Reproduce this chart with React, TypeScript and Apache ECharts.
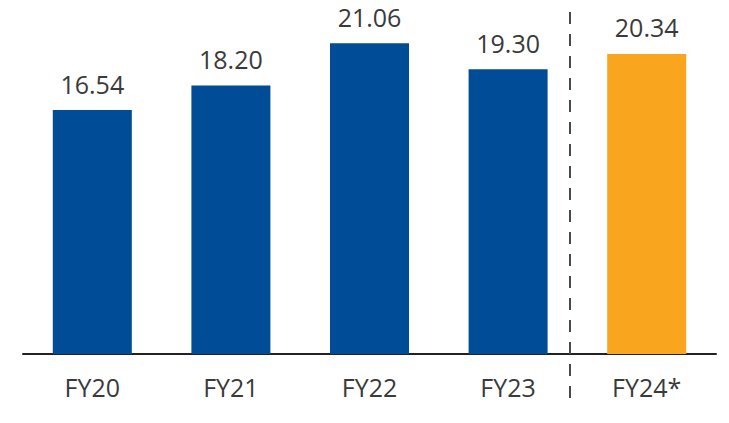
import React, { useEffect, useRef } from "react";
import * as echarts from "echarts";

const categories = ["FY20", "FY21", "FY22", "FY23", "FY24*"];
const values = [16.54, 18.2, 21.06, 19.3, 20.34];
const barColors = ["#004C97", "#004C97", "#004C97", "#004C97", "#F9A61E"];

export default function App() {
  const ref = useRef<HTMLDivElement>(null);
  useEffect(() => {
    if (!ref.current) return;
    const chart = echarts.init(ref.current, null, { renderer: "svg" });
    const font = "'Open Sans', sans-serif";
    chart.setOption({
      animation: false,
      backgroundColor: "#ffffff",
      grid: { left: 23, right: 13, top: 0, bottom: 69, containLabel: false },
      xAxis: {
        type: "category",
        data: categories,
        axisLine: { show: true, lineStyle: { color: "#222222", width: 2 } },
        axisTick: { show: false },
        axisLabel: { color: "#3a3a3a", fontSize: 25, fontFamily: font, margin: 20 },
      },
      yAxis: {
        type: "value",
        min: 0,
        max: 24,
        show: false,
        splitLine: { show: false },
      },
      series: [
        {
          type: "bar",
          barWidth: 79,
          data: values.map((v, i) => ({ value: v, itemStyle: { color: barColors[i] } })),
          label: {
            show: true,
            position: "top",
            distance: 14,
            color: "#3a3a3a",
            fontSize: 25,
            fontFamily: font,
            formatter: (p: any) => Number(p.value).toFixed(2),
          },
        },
      ],
      graphic: [
        {
          type: "line",
          shape: { x1: 570, y1: 12, x2: 570, y2: 408 },
          style: { stroke: "#4a4a4a", lineWidth: 2, lineDash: [12, 10] },
          z: 10,
        },
      ],
    });
    return () => chart.dispose();
  }, []);
  return (
    <div
      ref={ref}
      style={{ position: "fixed", left: 0, top: 0, width: 729, height: 423 }}
    />
  );
}
